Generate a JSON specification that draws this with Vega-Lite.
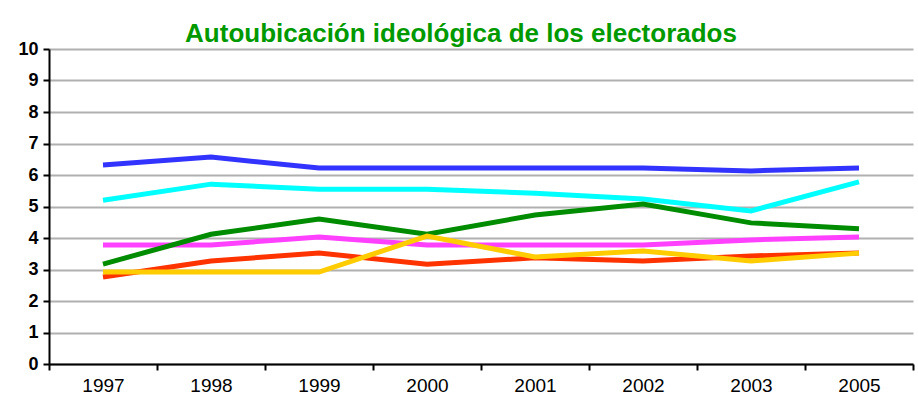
{
  "$schema": "https://vega.github.io/schema/vega-lite/v6.json",
  "width": 864,
  "height": 315,
  "autosize": {"type": "none"},
  "padding": {"left": 49, "top": 49, "right": 5, "bottom": 43},
  "background": "white",
  "title": {
    "text": "Autoubicación ideológica de los electorados",
    "font": "Liberation Sans",
    "fontSize": 26,
    "fontWeight": "bold",
    "color": "#009900",
    "anchor": "middle",
    "dx": -20,
    "dy": 30,
    "baseline": "alphabetic",
    "offset": 2
  },
  "data": {
    "values": [
      {"serie": "s1", "year": "1997", "value": 6.32},
      {"serie": "s1", "year": "1998", "value": 6.57},
      {"serie": "s1", "year": "1999", "value": 6.22},
      {"serie": "s1", "year": "2000", "value": 6.22},
      {"serie": "s1", "year": "2001", "value": 6.22},
      {"serie": "s1", "year": "2002", "value": 6.22},
      {"serie": "s1", "year": "2003", "value": 6.13},
      {"serie": "s1", "year": "2005", "value": 6.22},
      {"serie": "s2", "year": "1997", "value": 5.2},
      {"serie": "s2", "year": "1998", "value": 5.71},
      {"serie": "s2", "year": "1999", "value": 5.55},
      {"serie": "s2", "year": "2000", "value": 5.55},
      {"serie": "s2", "year": "2001", "value": 5.42},
      {"serie": "s2", "year": "2002", "value": 5.24},
      {"serie": "s2", "year": "2003", "value": 4.86},
      {"serie": "s2", "year": "2005", "value": 5.78},
      {"serie": "s3", "year": "1997", "value": 3.78},
      {"serie": "s3", "year": "1998", "value": 3.78},
      {"serie": "s3", "year": "1999", "value": 4.03},
      {"serie": "s3", "year": "2000", "value": 3.78},
      {"serie": "s3", "year": "2001", "value": 3.78},
      {"serie": "s3", "year": "2002", "value": 3.78},
      {"serie": "s3", "year": "2003", "value": 3.94},
      {"serie": "s3", "year": "2005", "value": 4.03},
      {"serie": "s4", "year": "1997", "value": 2.76},
      {"serie": "s4", "year": "1998", "value": 3.27},
      {"serie": "s4", "year": "1999", "value": 3.52},
      {"serie": "s4", "year": "2000", "value": 3.17},
      {"serie": "s4", "year": "2001", "value": 3.37},
      {"serie": "s4", "year": "2002", "value": 3.27},
      {"serie": "s4", "year": "2003", "value": 3.43},
      {"serie": "s4", "year": "2005", "value": 3.52},
      {"serie": "s5", "year": "1997", "value": 3.17},
      {"serie": "s5", "year": "1998", "value": 4.12},
      {"serie": "s5", "year": "1999", "value": 4.6},
      {"serie": "s5", "year": "2000", "value": 4.12},
      {"serie": "s5", "year": "2001", "value": 4.73},
      {"serie": "s5", "year": "2002", "value": 5.08},
      {"serie": "s5", "year": "2003", "value": 4.48},
      {"serie": "s5", "year": "2005", "value": 4.29},
      {"serie": "s6", "year": "1997", "value": 2.92},
      {"serie": "s6", "year": "1998", "value": 2.92},
      {"serie": "s6", "year": "1999", "value": 2.92},
      {"serie": "s6", "year": "2000", "value": 4.06},
      {"serie": "s6", "year": "2001", "value": 3.4},
      {"serie": "s6", "year": "2002", "value": 3.59},
      {"serie": "s6", "year": "2003", "value": 3.27},
      {"serie": "s6", "year": "2005", "value": 3.52}
    ]
  },
  "mark": {"type": "line", "strokeWidth": 5, "strokeJoin": "miter", "strokeCap": "butt"},
  "encoding": {
    "x": {
      "field": "year",
      "type": "ordinal",
      "bandPosition": 0.5,
      "scale": {"type": "band", "paddingInner": 0, "paddingOuter": 0},
      "axis": {
        "title": null,
        "labelAngle": 0,
        "labelFont": "Liberation Sans",
        "labelFontSize": 19,
        "labelColor": "black",
        "labelPadding": 6,
        "tickBand": "extent",
        "tickSize": 6,
        "tickWidth": 2,
        "tickColor": "black",
        "domainColor": "black",
        "domainWidth": 2,
        "grid": false
      }
    },
    "y": {
      "field": "value",
      "type": "quantitative",
      "scale": {"domain": [0, 10], "nice": false},
      "axis": {
        "title": null,
        "values": [0, 1, 2, 3, 4, 5, 6, 7, 8, 9, 10],
        "labelFont": "Liberation Sans",
        "labelFontSize": 18,
        "labelFontWeight": "bold",
        "labelColor": "black",
        "labelPadding": 5,
        "tickSize": 6,
        "tickWidth": 2,
        "tickColor": "black",
        "domainColor": "black",
        "domainWidth": 2,
        "grid": true,
        "gridColor": "#b0b0b0",
        "gridWidth": 2
      }
    },
    "color": {
      "field": "serie",
      "type": "nominal",
      "scale": {
        "domain": ["s1", "s2", "s3", "s4", "s5", "s6"],
        "range": ["#3333ff", "#00ffff", "#ff40ff", "#ff3300", "#008c00", "#ffcc00"]
      },
      "legend": null
    }
  },
  "config": {"view": {"stroke": null}}
}
